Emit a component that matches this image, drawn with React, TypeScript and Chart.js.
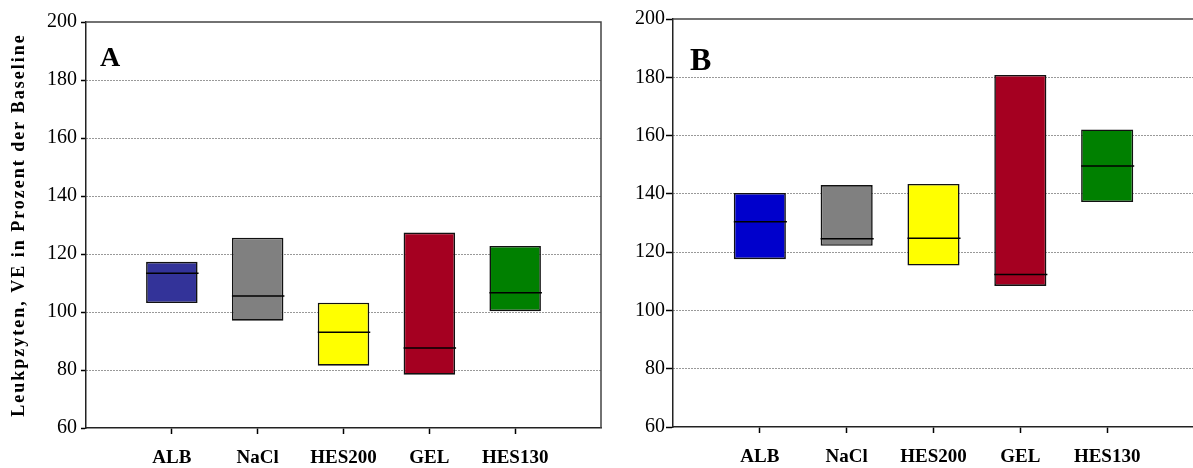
import React, { useEffect, useRef } from 'react';
import { Chart, registerables } from 'chart.js';

Chart.register(...registerables);

// Categories (empty slots at both ends form the axis margins)
const categories = ['', 'ALB', 'NaCl', 'HES200', 'GEL', 'HES130', ''];

// Panel A values (range low/high and median line)
const lowA = [null, 103.1, 97.0, 81.5, 78.4, 100.3, null];
const highA = [null, 117.3, 125.6, 103.2, 127.4, 122.8, null];
const medianA = [null, 113.4, 105.5, 93.0, 87.6, 106.6, null];

// Panel B values
const lowB = [null, 117.6, 122.2, 115.4, 108.4, 137.2, null];
const highB = [null, 140.3, 143.0, 143.4, 180.8, 162.1, null];
const medianB = [null, 130.4, 124.6, 124.8, 112.3, 149.6, null];

const colorsA = ['transparent', '#333399', '#808080', '#FFFF00', '#A50021', '#008000', 'transparent'];
const colorsB = ['transparent', '#0000CC', '#808080', '#FFFF00', '#A50021', '#008000', 'transparent'];

const yMin = 60;
const yMax = 200;
const yStep = 20;
const yTitle = 'Leukpzyten, VE in Prozent der Baseline';

type PanelCfg = {
  letter: string;
  letterSize: number;
  letterDx: number;
  letterDy: number;
  low: (number | null)[];
  high: (number | null)[];
  median: (number | null)[];
  colors: string[];
  showTitle: boolean;
  yWidth: number;
  xHeight: number;
  padTop: number;
  padRight: number;
  tickLen: number;
  tickPad: number;
  rightBorder: boolean;
};

const panelPlugin = {
  id: 'panelDecor',
  beforeDraw(chart: any) {
    const o = chart.options.plugins.panelDecor;
    if (o && o.showTitle) chart.ctx.letterSpacing = '2px';
  },
  beforeDatasetsDraw(chart: any) {
    chart.ctx.letterSpacing = '0px';
  },
  afterDatasetsDraw(chart: any) {
    const o = chart.options.plugins.panelDecor;
    const ctx = chart.ctx;
    const meta = chart.getDatasetMeta(0);
    const y = chart.scales.y;
    ctx.save();
    ctx.strokeStyle = '#000';
    ctx.lineWidth = 1.5;
    meta.data.forEach((bar: any, i: number) => {
      const m = o.median[i];
      if (m == null) return;
      const { x, width } = bar.getProps(['x', 'width'], true);
      const py = y.getPixelForValue(m);
      ctx.beginPath();
      ctx.moveTo(x - width / 2, py);
      ctx.lineTo(x + width / 2 + 1, py);
      ctx.stroke();
    });
    ctx.restore();
  },
  afterDraw(chart: any) {
    const o = chart.options.plugins.panelDecor;
    const ctx = chart.ctx;
    const a = chart.chartArea;
    ctx.save();
    ctx.strokeStyle = '#444';
    ctx.lineWidth = 1.5;
    ctx.beginPath();
    ctx.moveTo(a.left, a.top);
    ctx.lineTo(a.right, a.top);
    if (o.rightBorder) ctx.lineTo(a.right, a.bottom);
    ctx.stroke();
    ctx.fillStyle = '#000';
    ctx.font = `bold ${o.letterSize}px "Liberation Serif", serif`;
    ctx.textBaseline = 'alphabetic';
    ctx.textAlign = 'left';
    ctx.fillText(o.letter, a.left + o.letterDx, a.top + o.letterDy);
    ctx.restore();
  },
};

function Panel({ cfg, left, width }: { cfg: PanelCfg; left: number; width: number }) {
  const ref = useRef<HTMLCanvasElement | null>(null);
  useEffect(() => {
    if (!ref.current) return;
    const data = categories.map((_, i) =>
      cfg.low[i] == null ? null : [cfg.low[i] as number, cfg.high[i] as number]
    );
    const chart = new Chart(ref.current, {
      type: 'bar',
      data: {
        labels: categories,
        datasets: [
          {
            data: data as any,
            backgroundColor: cfg.colors,
            borderColor: '#111',
            borderWidth: 1.6,
            borderSkipped: false,
            barPercentage: 0.6,
            categoryPercentage: 1,
          },
        ],
      },
      options: {
        animation: false,
        responsive: false,
        devicePixelRatio: 1,
        layout: { padding: { top: cfg.padTop, right: cfg.padRight, left: 0, bottom: 0 } },
        plugins: {
          legend: { display: false },
          tooltip: { enabled: false },
          panelDecor: cfg as any,
        } as any,
        scales: {
          x: {
            offset: false,
            afterFit: (s: any) => {
              s.height = cfg.xHeight;
              s.paddingLeft = 0;
              s.paddingRight = 0;
            },
            grid: {
              offset: false,
              drawOnChartArea: false,
              drawTicks: true,
              tickLength: 6,
              color: 'transparent',
              tickColor: (c: any) => (categories[c.index] ? '#000' : 'transparent'),
              tickWidth: 1.5,
            },
            border: { display: true, color: '#222', width: 1.5 },
            ticks: {
              z: 1,
              autoSkip: false,
              maxRotation: 0,
              minRotation: 0,
              padding: 13,
              color: '#000',
              font: { family: '"Liberation Serif", serif', size: 19, weight: 'bold' },
            },
          },
          y: {
            min: yMin,
            max: yMax,
            afterFit: (s: any) => {
              s.width = cfg.yWidth;
            },
            grid: {
              color: (c: any) =>
                c.tick && (c.tick.value === yMin || c.tick.value === yMax) ? 'transparent' : '#333',
              lineWidth: 1,
              drawTicks: true,
              tickLength: cfg.tickLen,
              tickColor: '#000',
              tickWidth: 1.5,
            },
            border: { display: true, color: '#222', width: 1.5, dash: [1, 2] },
            ticks: {
              z: 1,
              stepSize: yStep,
              padding: cfg.tickPad,
              color: '#000',
              font: { family: '"Liberation Serif", serif', size: 20 },
            },
            title: {
              display: cfg.showTitle,
              text: yTitle,
              color: '#000',
              padding: { top: 9, bottom: 0 },
              font: { family: '"Liberation Serif", serif', size: 18, weight: 'bold' },
            },
          },
        },
      } as any,
      plugins: [panelPlugin],
    });
    return () => chart.destroy();
  }, []);
  return (
    <canvas
      ref={ref}
      width={width}
      height={468}
      style={{ position: 'absolute', left, top: 0, width, height: 468 }}
    />
  );
}

const cfgA: PanelCfg = {
  letter: 'A',
  letterSize: 28,
  letterDx: 14,
  letterDy: 44,
  low: lowA,
  high: highA,
  median: medianA,
  colors: colorsA,
  showTitle: true,
  yWidth: 86,
  xHeight: 40,
  padTop: 22,
  padRight: 19,
  tickLen: 5,
  tickPad: 4,
  rightBorder: true,
};

const cfgB: PanelCfg = {
  letter: 'B',
  letterSize: 32,
  letterDx: 17,
  letterDy: 51,
  low: lowB,
  high: highB,
  median: medianB,
  colors: colorsB,
  showTitle: false,
  yWidth: 53,
  xHeight: 41,
  padTop: 19,
  padRight: 0,
  tickLen: 7,
  tickPad: 1,
  rightBorder: false,
};

export default function App() {
  return (
    <div
      style={{
        position: 'absolute',
        left: 0,
        top: 0,
        width: 1193,
        height: 468,
        overflow: 'hidden',
        background: '#fff',
      }}
    >
      <Panel cfg={cfgA} left={0} width={620} />
      <Panel cfg={cfgB} left={620} width={574} />
    </div>
  );
}
